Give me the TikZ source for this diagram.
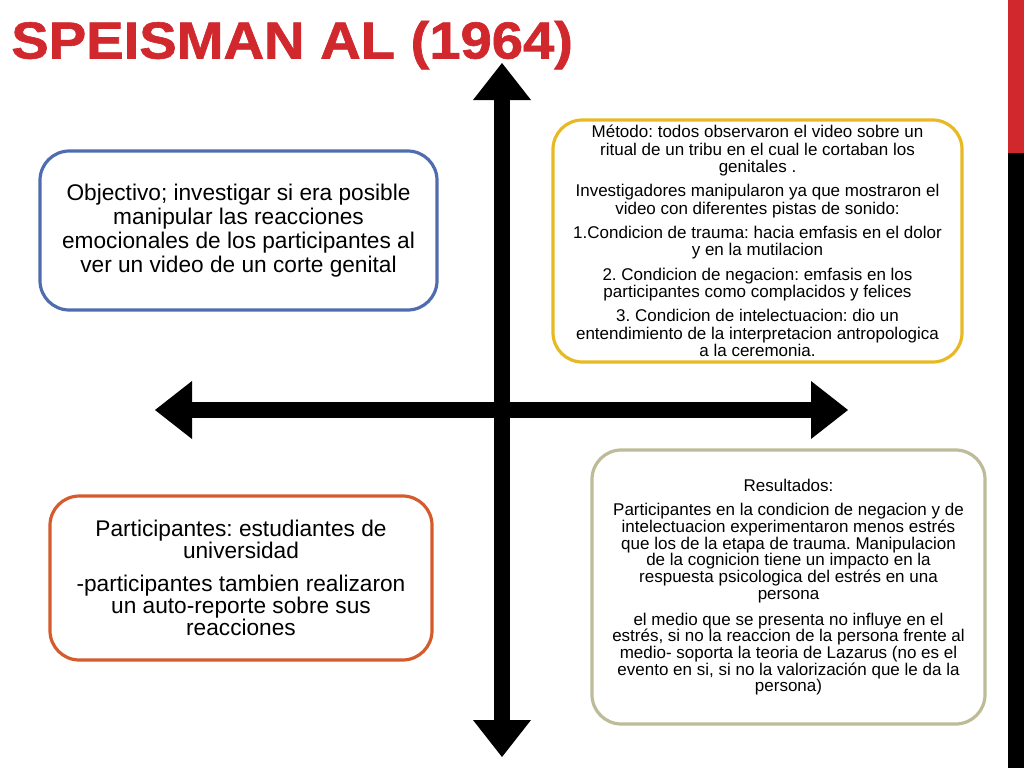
\documentclass[tikz,border=0pt]{standalone}
\usepackage{fontspec}
\setmainfont{Liberation Sans}
\newfontfamily\titulofont[FakeBold=1.2]{Liberation Sans Bold}
\usetikzlibrary{arrows.meta}
\frenchspacing
\definecolor{rojo}{HTML}{D1282E}
\definecolor{azul}{HTML}{4F6DAE}
\definecolor{amarillo}{HTML}{E8B923}
\definecolor{naranja}{HTML}{D65B2C}
\definecolor{caqui}{HTML}{BDBB98}
\tikzset{
  caja/.style={draw, rounded corners=22pt, line width=2.4pt, align=center, inner sep=0pt},
  flecha/.style={line width=12pt,
    {Triangle[line width=0pt, length=27.75pt, width=43.5pt]}-{Triangle[line width=0pt, length=27.75pt, width=43.5pt]}}
}

\begin{document}
\begin{tikzpicture}[x=0.75pt,y=-0.75pt]
\useasboundingbox (0,0) rectangle (1024,768);
\fill[rojo] (1008,0) rectangle (1024,153);
\fill[black] (1008,153) rectangle (1024,768);
\node[anchor=base west, inner sep=0pt, text=rojo, xscale=1.08, transform shape,
  font=\fontsize{39}{39}\titulofont] (titulo) at (11,58.5) {SPEISMAN AL (1964)};

\coordinate (arriba) at (502,63);
\coordinate (abajo) at (502,757);
\coordinate (izq) at (155,410);
\coordinate (der) at (848,410);
\draw[flecha] (arriba) -- (abajo);
\draw[flecha] (izq) -- (der);

\node[caja, draw=azul, minimum width=297.75pt, minimum height=119.25pt,
  font=\fontsize{17}{17.9}\selectfont] (objetivo) at (238.5,230.5)
  {Objectivo; investigar si era posible\\ manipular las reacciones\\
   emocionales de los participantes al\\ ver un video de un corte genital};

\node[caja, draw=amarillo, minimum width=306.75pt, minimum height=181.5pt,
  font=\fontsize{12.75}{13.1}\selectfont] (metodo) at (757.5,241)
  {Método: todos observaron el video sobre un\\ ritual de un tribu en el cual le cortaban los\\ genitales .\\[5pt]
   Investigadores manipularon ya que mostraron el\\ video con diferentes pistas de sonido:\\[5pt]
   1.Condicion de trauma: hacia emfasis en el dolor\\ y en la mutilacion\\[5pt]
   2. Condicion de negacion: emfasis en los\\ participantes como complacidos y felices\\[5pt]
   3. Condicion de intelectuacion: dio un\\ entendimiento de la interpretacion antropologica\\ a la ceremonia.};

\node[caja, draw=naranja, minimum width=286.5pt, minimum height=123pt,
  font=\fontsize{17}{16.5}\selectfont] (participantes) at (241,578)
  {Participantes: estudiantes de\\ universidad\\[8pt]
   -participantes tambien realizaron\\ un auto-reporte sobre sus\\ reacciones};

\node[caja, draw=caqui, minimum width=294.75pt, minimum height=205.5pt,
  font=\fontsize{12.75}{12.5}\selectfont] (resultados) at (788.5,587)
  {Resultados:\\[6pt]
   Participantes en la condicion de negacion y de\\ intelectuacion experimentaron menos estrés\\
   que los de la etapa de trauma. Manipulacion\\ de la cognicion tiene un impacto en la\\
   respuesta psicologica del estrés en una\\ persona\\[7pt]
   el medio que se presenta no influye en el\\ estrés, si no la reaccion de la persona frente al\\
   medio- soporta la teoria de Lazarus (no es el\\ evento en si, si no la valorización que le da la\\ persona)};
\end{tikzpicture}
\end{document}
